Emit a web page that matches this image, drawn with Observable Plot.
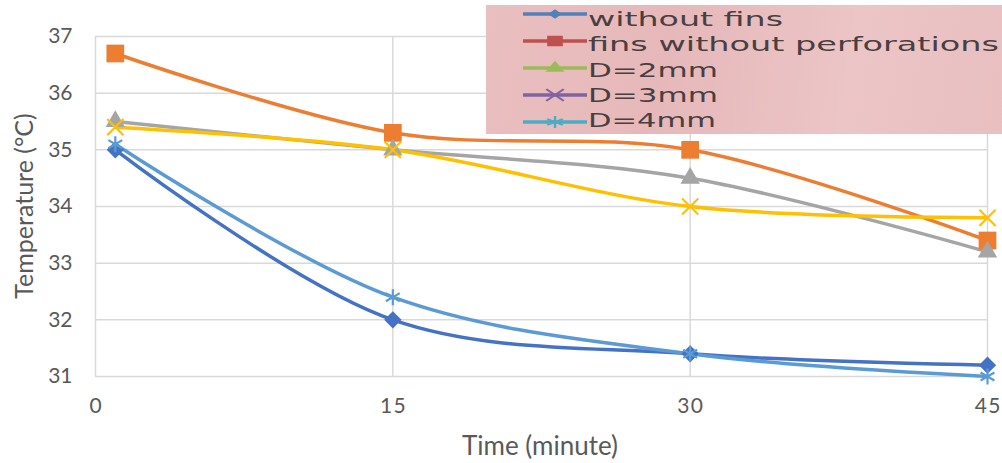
<!DOCTYPE html>
<html>
<head>
<meta charset="utf-8">
<script src="https://cdn.jsdelivr.net/npm/d3@7"></script>
<script src="https://cdn.jsdelivr.net/npm/@observablehq/plot@0.6"></script>
<style>
  html, body { margin: 0; padding: 0; background: #fff; }
  #wrap { position: relative; width: 1002px; height: 463px; overflow: hidden; }
  #legend { position: absolute; left: 486px; top: 5px; width: 516px; height: 129px;
    background: linear-gradient(100deg, #eabfc0 0%, #e6b8ba 35%, #ecc5c6 70%, #e9bfc0 100%); }
</style>
</head>
<body>
<div id="wrap"></div>
<script>
const times = [1, 15, 30, 45];
const seriesNames = ["without fins", "fins without perforations", "D=2mm", "D=3mm", "D=4mm"];
const withoutFins = [35.0, 32.0, 31.4, 31.2];
const finsNoPerf = [36.7, 35.3, 35.0, 33.4];
const d2mm = [35.5, 35.0, 34.5, 33.2];
const d3mm = [35.4, 35.0, 34.0, 33.8];
const d4mm = [35.1, 32.4, 31.4, 31.0];
const xTicks = [0, 15, 30, 45];
const yTicks = [31, 32, 33, 34, 35, 36, 37];

const lineColors = ["#4472C4", "#ED7D31", "#A5A5A5", "#FFC000", "#5B9BD5"];
const legendColors = ["#4F81BD", "#C0504D", "#9BBB59", "#8064A2", "#4BACC6"];
const symbols = ["diamond2", "square", "triangle", "times", "asterisk"];
const filled = [true, true, true, false, false];
const radii = [7.8, 10, 7.2, 7.4, 7.6];

const values = [withoutFins, finsNoPerf, d2mm, d3mm, d4mm];
const data = values.map((vals, i) => vals.map((v, j) => ({series: seriesNames[i], t: times[j], temp: v})));

const marks = [
  Plot.gridX(xTicks.slice(1), {stroke: "#D9D9D9", strokeOpacity: 1, strokeWidth: 1.5}),
  Plot.gridY(yTicks, {stroke: "#D9D9D9", strokeOpacity: 1, strokeWidth: 1.5}),
  Plot.ruleX([0], {stroke: "#D9D9D9", strokeWidth: 1.5}),
  Plot.axisX({ticks: xTicks, tickSize: 0, tickPadding: 22, label: null,
    tickFormat: d => String(d).split("").join("\u200A")}),
  Plot.axisY({ticks: yTicks, tickSize: 0, tickPadding: 23, label: null, tickFormat: d => String(d)}),
];
data.forEach((d, i) => {
  marks.push(Plot.line(d, {x: "t", y: "temp", stroke: lineColors[i], strokeWidth: 3.5, curve: "catmull-rom"}));
});
data.forEach((d, i) => {
  marks.push(Plot.dot(d, filled[i]
    ? {x: "t", y: "temp", symbol: () => symbols[i], r: radii[i], fill: lineColors[i], stroke: "none"}
    : {x: "t", y: "temp", symbol: () => symbols[i], r: radii[i], stroke: lineColors[i], strokeWidth: 2.2, fill: "none"}));
});

const chart = Plot.plot({
  width: 1002, height: 463,
  marginLeft: 95, marginRight: 15, marginTop: 36, marginBottom: 87,
  style: {fontFamily: "Lato, 'Open Sans', sans-serif", fontSize: "21px", color: "#595959", background: "#fff"},
  x: {domain: [0, 45]},
  y: {domain: [31, 37]},
  symbol: {type: "identity"},
  marks
});
const wrap = document.getElementById("wrap");
wrap.appendChild(chart);

// axis titles
const svg = d3.select(chart);
svg.append("text").attr("x", 540).attr("y", 455).attr("text-anchor", "middle")
  .attr("fill", "#595959").style("font-size", "26px").attr("font-family", "Lato, sans-serif").text("Time (minute)");
svg.append("text").attr("transform", "translate(33,206) rotate(-90)").attr("text-anchor", "middle")
  .attr("fill", "#595959").style("font-size", "25px").attr("font-family", "Lato, sans-serif").text("Temperature (°C)");

// legend overlay (pasted image style)
const leg = d3.select(wrap).append("div").attr("id", "legend")
  .append("svg").attr("width", 516).attr("height", 129);
const textWidths = [195, 411, 130, 130, 128];
const legSizes = [55, 110, 70, 90, 100];
seriesNames.forEach((name, i) => {
  const yLine = 9 + i * 27;
  const g = leg.append("g");
  g.append("line").attr("x1", 37).attr("x2", 101).attr("y1", yLine).attr("y2", yLine)
    .attr("stroke", legendColors[i]).attr("stroke-width", 3.5);
  const sym = d3.symbol().type({diamond2: d3.symbolDiamond2, square: d3.symbolSquare, triangle: d3.symbolTriangle, times: d3.symbolTimes, asterisk: d3.symbolAsterisk}[symbols[i]]).size(legSizes[i]);
  g.append("path").attr("d", sym()).attr("transform", `translate(69,${yLine}) scale(1.5,1)`)
    .attr("fill", filled[i] ? legendColors[i] : "none")
    .attr("stroke", filled[i] ? "none" : legendColors[i]).attr("stroke-width", 1.6);
  g.append("text").attr("x", 102).attr("y", 21 + i * 25.3)
    .attr("font-family", "'DejaVu Sans', sans-serif").style("font-size", "20px")
    .attr("fill", "#4a3f40").attr("textLength", textWidths[i]).attr("lengthAdjust", "spacingAndGlyphs")
    .text(name);
});
</script>
</body>
</html>
